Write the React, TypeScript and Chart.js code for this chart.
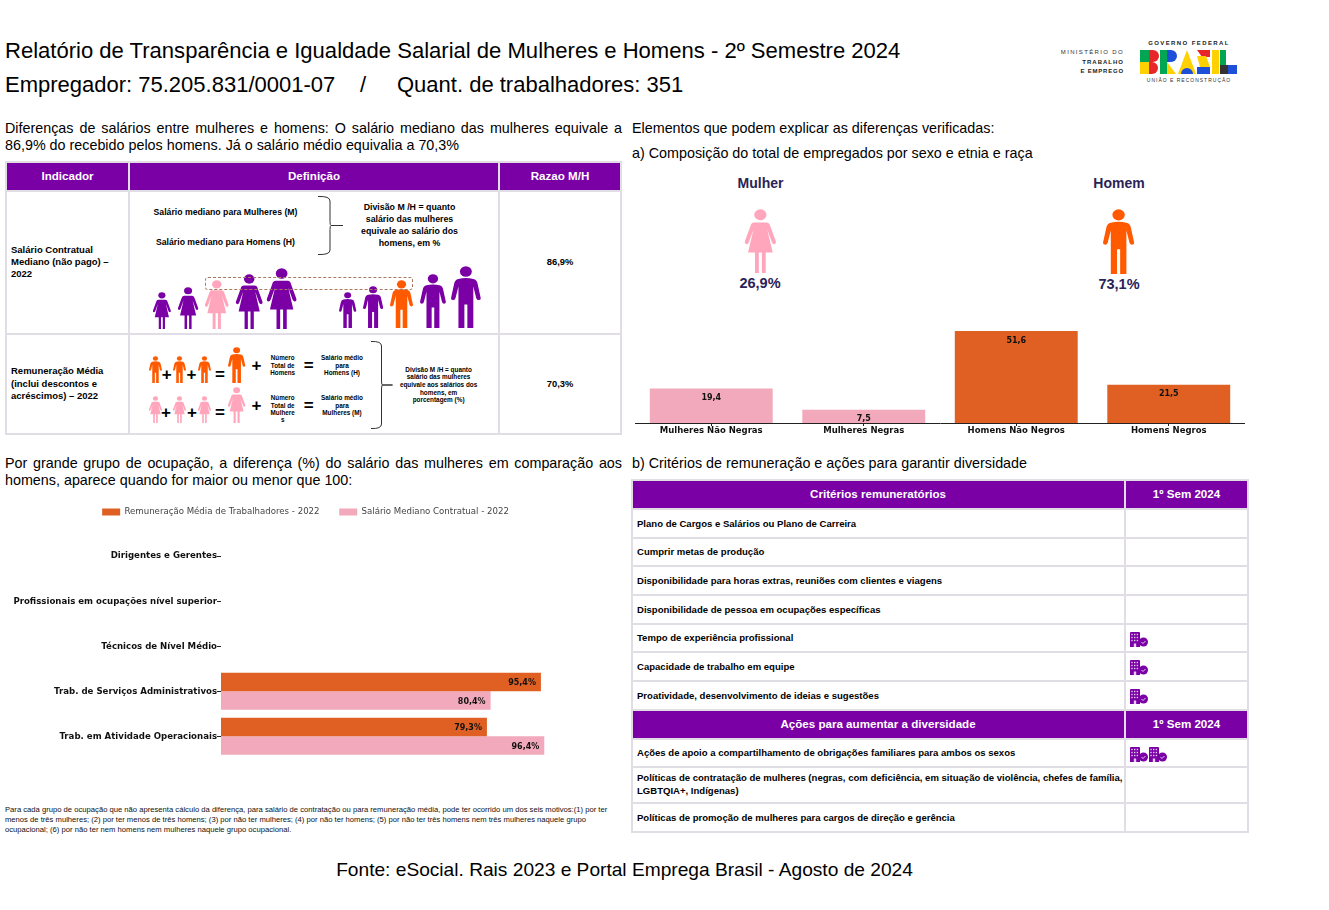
import React, { useEffect, useRef } from "react";
import { Chart, registerables } from "chart.js";

Chart.register(...registerables);

const PURPLE = "#7a00a6";
const ORANGE_BAR = "#e06023";
const PINK_BAR = "#f2a9bb";
const ORANGE = "#ff5a00";
const PINK = "#ffa6bc";
const LINE = "#e1dde4";
const ARIAL = '"Liberation Sans", Arial, sans-serif';
const DEJAVU = '"DejaVu Sans", sans-serif';

const compositionLabels = ["Mulheres Não Negras", "Mulheres Negras", "Homens Não Negros", "Homens Negros"];
const compositionValues = [19.4, 7.5, 51.6, 21.5];
const compositionColors = [PINK_BAR, PINK_BAR, ORANGE_BAR, ORANGE_BAR];

const occupationLabels = [
  "Dirigentes e Gerentes",
  "Profissionais em ocupações nível superior",
  "Técnicos de Nível Médio",
  "Trab. de Serviços Administrativos",
  "Trab. em Atividade Operacionais",
];
const averagePay = [null, null, null, 95.4, 79.3];
const medianPay = [null, null, null, 80.4, 96.4];
const seriesNames = ["Remuneração Média de Trabalhadores - 2022", "Salário Mediano Contratual - 2022"];

const criteriaRows = [
  { label: "Plano de Cargos e Salários ou Plano de Carreira", icons: 0, top: 510, h: 27 },
  { label: "Cumprir metas de produção", icons: 0, top: 539, h: 26 },
  { label: "Disponibilidade para horas extras, reuniões com clientes e viagens", icons: 0, top: 567, h: 27 },
  { label: "Disponibilidade de pessoa em ocupações específicas", icons: 0, top: 596, h: 27 },
  { label: "Tempo de experiência profissional", icons: 1, top: 625, h: 26 },
  { label: "Capacidade de trabalho em equipe", icons: 1, top: 653, h: 27 },
  { label: "Proatividade, desenvolvimento de ideias e sugestões", icons: 1, top: 682, h: 27 },
];
const diversityRows = [
  { label: "Ações de apoio a compartilhamento de obrigações familiares para ambos os sexos", icons: 2, top: 740, h: 26 },
  {
    label: "Políticas de contratação de mulheres (negras, com deficiência, em situação de violência, chefes de família, LGBTQIA+, Indígenas)",
    icons: 0,
    top: 768,
    h: 34,
  },
  { label: "Políticas de promoção de mulheres para cargos de direção e gerência", icons: 0, top: 804, h: 27 },
];

const valueLabels = (format: (v: number) => string, place: (x: number, y: number) => [number, number], align: CanvasTextAlign) => ({
  id: "valueLabels",
  afterDatasetsDraw(chart: any) {
    const { ctx } = chart;
    ctx.save();
    ctx.font = `bold 8px ${DEJAVU}`;
    ctx.fillStyle = "#111";
    ctx.textAlign = align;
    ctx.textBaseline = "middle";
    chart.data.datasets.forEach((ds: any, i: number) => {
      chart.getDatasetMeta(i).data.forEach((el: any, j: number) => {
        const v = ds.data[j];
        if (v == null) return;
        const [x, y] = place(el.x, el.y);
        ctx.fillText(format(v), x, y);
      });
    });
    ctx.restore();
  },
});

const comma = (v: number) => v.toFixed(1).replace(".", ",");

function CompositionChart() {
  const ref = useRef<HTMLCanvasElement>(null);
  useEffect(() => {
    const chart = new Chart(ref.current!, {
      type: "bar",
      data: {
        labels: compositionLabels,
        datasets: [{ data: compositionValues, backgroundColor: compositionColors, categoryPercentage: 0.806, barPercentage: 1 }],
      },
      options: {
        animation: false,
        responsive: false,
        layout: { padding: 0 },
        plugins: { legend: { display: false }, tooltip: { enabled: false } },
        scales: {
          y: { display: false, min: 0, max: 69 },
          x: {
            afterFit: (s: any) => { s.height = 17; },
            border: { color: "#222", width: 1 },
            grid: { drawOnChartArea: false, tickLength: 3, color: "#222", offset: false },
            ticks: { color: "#111", padding: 0, maxRotation: 0, autoSkip: false, font: { family: DEJAVU, size: 8.5, weight: "bold" } },
          },
        },
      },
      plugins: [valueLabels(comma, (x, y) => [x, y + 9.5], "center")],
    } as any);
    return () => chart.destroy();
  }, []);
  return <canvas ref={ref} width={610} height={140} style={{ position: "absolute", left: 635, top: 300, display: "block" }} />;
}

function OccupationChart() {
  const ref = useRef<HTMLCanvasElement>(null);
  useEffect(() => {
    const chart = new Chart(ref.current!, {
      type: "bar",
      data: {
        labels: occupationLabels,
        datasets: [
          { label: seriesNames[0], data: averagePay, backgroundColor: ORANGE_BAR, categoryPercentage: 0.82, barPercentage: 1 },
          { label: seriesNames[1], data: medianPay, backgroundColor: PINK_BAR, categoryPercentage: 0.82, barPercentage: 1 },
        ],
      },
      options: {
        indexAxis: "y",
        animation: false,
        responsive: false,
        layout: { padding: 0 },
        plugins: {
          tooltip: { enabled: false },
          legend: {
            position: "top",
            labels: { boxWidth: 18, boxHeight: 7, padding: 19.7, color: "#444", font: { family: DEJAVU, size: 8.6 } },
          },
        },
        scales: {
          x: {
            position: "top",
            min: 0,
            max: 116.3,
            afterFit: (s: any) => { s.height = 7.45; },
            ticks: { display: false },
            grid: { display: false },
            border: { display: false },
          },
          y: {
            afterFit: (s: any) => { s.width = 221; },
            border: { display: false },
            grid: { drawOnChartArea: false, tickLength: 4, color: "#222", offset: false },
            ticks: { color: "#111", padding: 0, autoSkip: false, font: { family: DEJAVU, size: 8.6, weight: "bold" } },
          },
        },
      },
      plugins: [valueLabels((v) => comma(v) + "%", (x, y) => [x - 5, y + 1], "right")],
    } as any);
    return () => chart.destroy();
  }, []);
  return <canvas ref={ref} width={611} height={276} style={{ position: "absolute", left: 0, top: 488, display: "block" }} />;
}

function T({ x, y, size, bold, center, right, color = "#000", font = ARIAL, sp, children }: any) {
  const tx = center ? "-50%" : right ? "-100%" : "0";
  return (
    <div
      style={{
        position: "absolute",
        left: x,
        top: y,
        transform: `translate(${tx},-50%)`,
        whiteSpace: "nowrap",
        fontFamily: font,
        fontSize: size,
        fontWeight: bold ? 700 : 400,
        color,
        lineHeight: 1,
        letterSpacing: sp,
      }}
    >
      {children}
    </div>
  );
}

function Box({ x, y, w, h, bg = "#fff" }: any) {
  return <div style={{ position: "absolute", left: x, top: y, width: w, height: h, background: bg }} />;
}

function Person({ kind, cx, top, bottom, color }: any) {
  const h = bottom - top;
  const w = h * 0.48;
  const man = "M10 21Q20 18 30 21Q35 22 36 30L40 52Q40 55 37 55Q35 55 34 52L30 33V100H22V62H18V100H10V33L6 52Q5 55 3 55Q0 55 0 52L4 30Q5 22 10 21Z";
  const woman = "M12 21H28Q32 21 33 27L40 50Q41 54 38 55Q36 55 35 52L29 32L36 68H27V100H22V68H18V100H13V68H4L11 32L5 52Q4 55 2 55Q-1 54 0 50L7 27Q8 21 12 21Z";
  return (
    <svg viewBox="0 0 40 100" preserveAspectRatio="none" style={{ position: "absolute", left: cx - w / 2, top, width: w, height: h, overflow: "visible" }}>
      <ellipse cx="20" cy="9" rx="8" ry="8.5" fill={color} />
      <path d={kind === "m" ? man : woman} fill={color} />
    </svg>
  );
}

function Brace({ x, y, w, h, tip }: any) {
  const m = h / 2;
  return (
    <svg style={{ position: "absolute", left: x, top: y, width: w + tip + 1, height: h + 2, overflow: "visible" }}>
      <path d={`M0 0.5Q${w} 0 ${w} 5V${m - 4}Q${w} ${m} ${w + 1} ${m}H${w + tip}H${w + 1}Q${w} ${m} ${w} ${m + 4}V${h - 5}Q${w} ${h} 0 ${h - 0.5}`} fill="none" stroke="#333" strokeWidth="1" />
    </svg>
  );
}

function Icon({ x, y }: any) {
  return (
    <svg viewBox="0 0 18 15" style={{ position: "absolute", left: x, top: y - 7.5, width: 18, height: 15 }}>
      <path d="M0 1Q0 0 1 0H9Q10 0 10 1V15H0Z" fill={PURPLE} />
      {[2, 4.7, 7.4].map((cx) => [2.5, 5.5, 8.5].map((cy) => <rect key={`${cx}${cy}`} x={cx - 0.7} y={cy - 0.7} width="1.4" height="1.4" fill="#e7cdf0" />))}
      <rect x="3.8" y="11.5" width="2.4" height="3.5" fill="#e7cdf0" />
      <circle cx="13.5" cy="10" r="4.5" fill={PURPLE} />
      <path d="M11.5 10l1.5 1.5 2.5-2.5" stroke="#e7cdf0" strokeWidth="1" fill="none" />
    </svg>
  );
}

function Lines({ x, ys, lines, size, center = true }: any) {
  return (
    <>
      {lines.map((l: string, i: number) => (
        <T key={i} x={x} y={ys[i]} size={size} bold center={center}>{l}</T>
      ))}
    </>
  );
}

const plus = (x: number, y: number, size = 17) => <T key={`p${x}${y}`} x={x} y={y} size={size} bold center color="#000">+</T>;
const equal = (x: number, y: number, size = 17) => <T key={`e${x}${y}`} x={x} y={y} size={size} bold center color="#000">=</T>;

function Logo() {
  const c = { g: "#00a651", y: "#ffd100", b: "#1d4fd8", r: "#e8262a", k: "#333" };
  return (
    <svg viewBox="0 0 97 24" style={{ position: "absolute", left: 1140, top: 50, width: 97, height: 24 }}>
      <rect x="0" y="0" width="9" height="12" fill={c.g} />
      <rect x="0" y="12" width="9" height="12" fill={c.y} />
      <path d="M9 0H13A6 6 0 0 1 13 12H9Z" fill={c.r} />
      <path d="M9 12H12A6 6 0 0 1 12 24H9Z" fill={c.r} />
      <rect x="20" y="0" width="7" height="24" fill={c.g} />
      <path d="M27 0H31A6 6 0 0 1 31 12H27Z" fill={c.b} />
      <path d="M27 12L36 24H27Z" fill={c.y} />
      <path d="M38 24L47 0L56 24Z" fill={c.y} />
      <path d="M41 24A6 6 0 0 1 53 24Z" fill={c.b} />
      <path d="M57 0H70V7H62Z" fill={c.r} />
      <path d="M57 6H66L70 17H60Z" fill={c.y} />
      <path d="M57 17H70V24H57Z" fill={c.b} />
      <rect x="72" y="0" width="7" height="24" fill={c.y} />
      <rect x="80" y="0" width="6" height="15" fill={c.g} />
      <rect x="80" y="15" width="8" height="9" fill={c.k} />
      <rect x="88" y="15" width="9" height="9" fill={c.b} />
    </svg>
  );
}

export default function App() {
  const rowCenter = (r: any) => r.top + r.h / 2;
  return (
    <div style={{ position: "absolute", left: 0, top: 0, width: 1329, height: 910, background: "#fff", overflow: "hidden", filter: "blur(0.35px)" }}>
      <T x={5} y={50.5} size={22.05}>Relatório de Transparência e Igualdade Salarial de Mulheres e Homens - 2º Semestre 2024</T>
      <T x={5} y={85} size={22}>Empregador: 75.205.831/0001-07</T>
      <T x={360} y={85} size={22}>/</T>
      <T x={397} y={85} size={22}>Quant. de trabalhadores: 351</T>

      <T x={1124} y={52} size={6} right sp={1.35} color="#333">MINISTÉRIO DO</T>
      <T x={1124} y={61.5} size={6} right bold sp={1} color="#222">TRABALHO</T>
      <T x={1124} y={71} size={6} right bold sp={0.8} color="#222">E EMPREGO</T>
      <T x={1189} y={43} size={6} center bold sp={1.4} color="#222">GOVERNO FEDERAL</T>
      <Logo />
      <T x={1189} y={80} size={5} center sp={1} color="#333">UNIÃO E RECONSTRUÇÃO</T>

      <div style={{ position: "absolute", left: 5, top: 120, width: 617, fontFamily: ARIAL, fontSize: 14.33, lineHeight: "17px", textAlign: "justify", color: "#000" }}>
        Diferenças de salários entre mulheres e homens: O salário mediano das mulheres equivale a 86,9% do recebido pelos homens. Já o salário médio equivalia a 70,3%
      </div>
      <T x={632} y={128} size={14.33}>Elementos que podem explicar as diferenças verificadas:</T>
      <T x={632} y={153} size={14.33}>a) Composição do total de empregados por sexo e etnia e raça</T>

      {/* left table */}
      <Box x={5} y={161} w={617} h={274} bg={LINE} />
      <Box x={7} y={163} w={121} h={27} bg={PURPLE} />
      <Box x={130} y={163} w={368} h={27} bg={PURPLE} />
      <Box x={500} y={163} w={120} h={27} bg={PURPLE} />
      <T x={67.5} y={176} size={11.6} bold center color="#fff">Indicador</T>
      <T x={314} y={176} size={11.6} bold center color="#fff">Definição</T>
      <T x={560} y={176} size={11.6} bold center color="#fff">Razao M/H</T>
      <Box x={7} y={192} w={121} h={141} />
      <Box x={130} y={192} w={368} h={141} />
      <Box x={500} y={192} w={120} h={141} />
      <Box x={7} y={335} w={121} h={98} />
      <Box x={130} y={335} w={368} h={98} />
      <Box x={500} y={335} w={120} h={98} />

      <Lines x={11} center={false} ys={[250, 262, 274]} size={9.5} lines={["Salário Contratual", "Mediano (não pago) –", "2022"]} />
      <Lines x={11} center={false} ys={[371, 384, 396]} size={9.5} lines={["Remuneração Média", "(inclui descontos e", "acréscimos) – 2022"]} />
      <T x={560} y={262} size={9.4} bold center>86,9%</T>
      <T x={560} y={384} size={9.4} bold center>70,3%</T>

      <T x={225.5} y={212} size={8.7} bold center>Salário mediano para Mulheres (M)</T>
      <T x={225.5} y={242} size={8.7} bold center>Salário mediano para Homens (H)</T>
      <Brace x={318} y={196} w={12} h={59} tip={13} />
      <Lines x={409.5} ys={[207, 219, 231, 243]} size={8.8} lines={["Divisão M /H = quanto", "salário das mulheres", "equivale ao salário dos", "homens, em %"]} />

      {[[162, 292, 329, PURPLE], [187.8, 287, 329, PURPLE], [217, 280, 329, PINK], [248.8, 274, 329, PURPLE], [282, 268, 329, PURPLE]].map((p: any, i) => (
        <Person key={i} kind="f" cx={p[0]} top={p[1]} bottom={p[2]} color={p[3]} />
      ))}
      {[[347.7, 292, 328, PURPLE], [373, 286, 328, PURPLE], [402, 280, 328, ORANGE], [433, 274, 328, PURPLE], [465.7, 266, 328, PURPLE]].map((p: any, i) => (
        <Person key={i} kind="m" cx={p[0]} top={p[1]} bottom={p[2]} color={p[3]} />
      ))}
      <div style={{ position: "absolute", left: 204.5, top: 277, width: 208.5, height: 13, border: "1.3px dashed #a9795f", borderRadius: 3, boxSizing: "border-box" }} />

      {[155, 179, 204.5].map((x) => <Person key={x} kind="m" cx={x} top={356} bottom={383} color={ORANGE} />)}
      <Person kind="m" cx={237} top={347} bottom={383} color={ORANGE} />
      {[155, 179, 204.5].map((x) => <Person key={x} kind="f" cx={x} top={396} bottom={423} color={PINK} />)}
      <Person kind="f" cx={237} top={387} bottom={423} color={PINK} />
      {plus(166.7, 374)}{plus(191.4, 374)}{equal(220, 374)}{plus(256.4, 365)}{equal(308.6, 365)}
      {plus(166, 412)}{plus(192, 412)}{equal(220, 412)}{plus(256.4, 405)}{equal(308.6, 405)}
      <Lines x={282.7} ys={[358, 365.5, 373]} size={6.3} lines={["Número", "Total de", "Homens"]} />
      <Lines x={342} ys={[358, 365.5, 373]} size={6.4} lines={["Salário médio", "para", "Homens (H)"]} />
      <Lines x={282.7} ys={[398, 405.5, 413, 420]} size={6.3} lines={["Número", "Total de", "Mulhere", "s"]} />
      <Lines x={342} ys={[398, 405.5, 413]} size={6.4} lines={["Salário médio", "para", "Mulheres (M)"]} />
      <Brace x={371} y={341} w={10.5} h={88} tip={11} />
      <Lines x={438.6} ys={[370, 377, 385, 393, 400]} size={6.4} lines={["Divisão M /H = quanto", "salário das mulheres", "equivale aos salários dos", "homens, em", "porcentagem (%)"]} />

      {/* composition */}
      <T x={760.5} y={183} size={14} bold center color="#2a2358">Mulher</T>
      <T x={1119} y={183} size={14} bold center color="#2a2358">Homem</T>
      <Person kind="f" cx={760} top={209} bottom={273} color={PINK} />
      <Person kind="m" cx={1119} top={209} bottom={274} color={ORANGE} />
      <T x={760} y={283} size={14.5} bold center color="#2a2358">26,9%</T>
      <T x={1119} y={284} size={14.5} bold center color="#2a2358">73,1%</T>
      <CompositionChart />

      {/* occupation */}
      <div style={{ position: "absolute", left: 5, top: 455, width: 617, fontFamily: ARIAL, fontSize: 14.33, lineHeight: "17px", textAlign: "justify", color: "#000" }}>
        Por grande grupo de ocupação, a diferença (%) do salário das mulheres em comparação aos homens, aparece quando for maior ou menor que 100:
      </div>
      <T x={632} y={463} size={14.33}>b) Critérios de remuneração e ações para garantir diversidade</T>
      <OccupationChart />
      <div style={{ position: "absolute", left: 5, top: 805.2, width: 610, fontFamily: ARIAL, fontSize: 7.65, lineHeight: "9.7px", color: "#111" }}>
        Para cada grupo de ocupação que não apresenta cálculo da diferença, para salário de contratação ou para remuneração média, pode ter ocorrido um dos seis motivos:(1) por ter menos de três mulheres; (2) por ter menos de três homens; (3) por não ter mulheres; (4) por não ter homens; (5) por não ter três homens nem três mulheres naquele grupo ocupacional; (6) por não ter nem homens nem mulheres naquele grupo ocupacional.
      </div>

      {/* right table */}
      <Box x={631} y={479} w={618} h={354} bg={LINE} />
      <Box x={633} y={481} w={491} h={27} bg={PURPLE} />
      <Box x={1126} y={481} w={121} h={27} bg={PURPLE} />
      <T x={878} y={494} size={11.6} bold center color="#fff">Critérios remuneratórios</T>
      <T x={1186.5} y={494} size={11.6} bold center color="#fff">1º Sem 2024</T>
      <Box x={633} y={711} w={491} h={27} bg={PURPLE} />
      <Box x={1126} y={711} w={121} h={27} bg={PURPLE} />
      <T x={878} y={724} size={11.6} bold center color="#fff">Ações para aumentar a diversidade</T>
      <T x={1186.5} y={724} size={11.6} bold center color="#fff">1º Sem 2024</T>
      {[...criteriaRows, ...diversityRows].map((r) => (
        <React.Fragment key={r.label}>
          <Box x={633} y={r.top} w={491} h={r.h} />
          <Box x={1126} y={r.top} w={121} h={r.h} />
          <div style={{ position: "absolute", left: 637, top: rowCenter(r) - 1, transform: "translateY(-50%)", width: 487, fontFamily: ARIAL, fontSize: 9.55, lineHeight: "13px", fontWeight: 700, color: "#000" }}>{r.label}</div>
          {Array.from({ length: r.icons }).map((_, i) => <Icon key={i} x={1130 + i * 19} y={rowCenter(r) + 1} />)}
        </React.Fragment>
      ))}

      <T x={624.5} y={870} size={19.15} center>Fonte: eSocial. Rais 2023 e Portal Emprega Brasil - Agosto de 2024</T>
    </div>
  );
}
